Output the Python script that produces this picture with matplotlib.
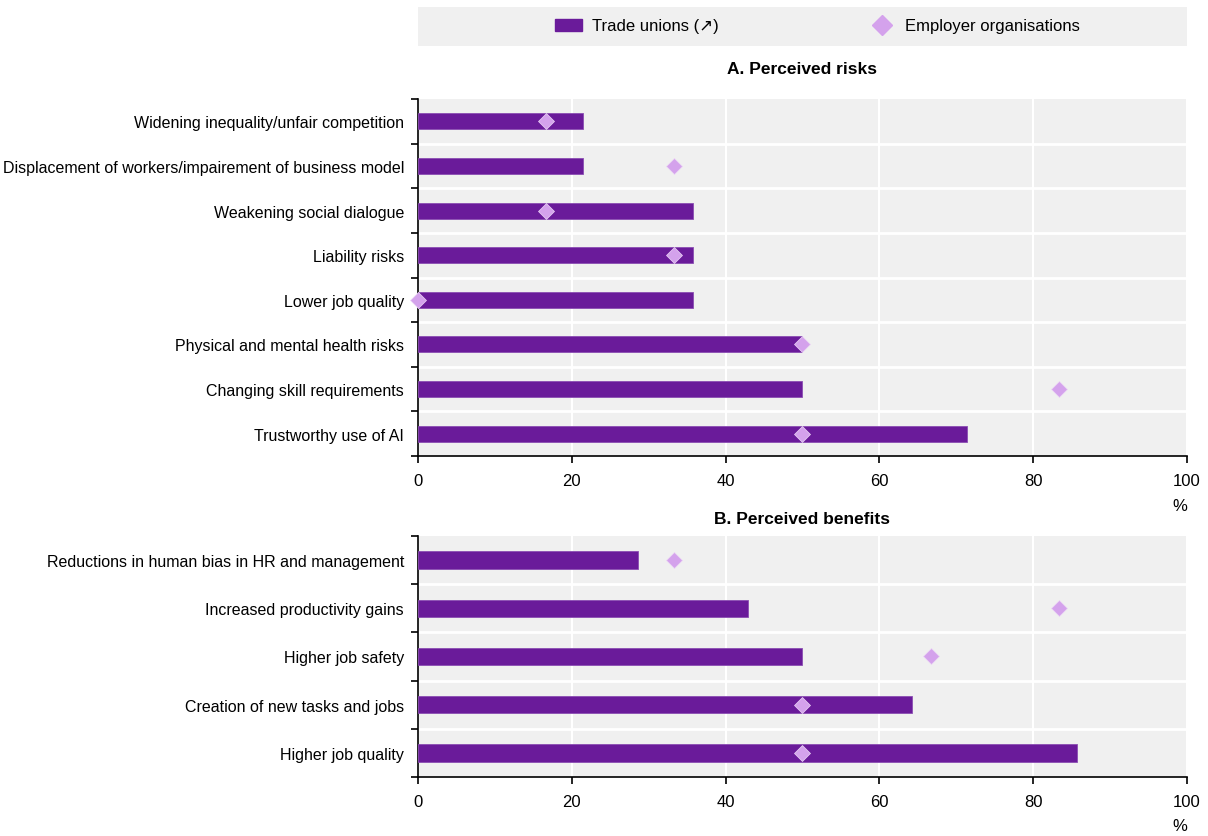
import numpy as np
import matplotlib.pyplot as plt
from matplotlib.patches import Rectangle
from matplotlib.lines import Line2D
from matplotlib.patches import Patch

plt.rcParams['font.family'] = ['Liberation Sans', 'DejaVu Sans']

risk_labels = ['Widening inequality/unfair competition',
               'Displacement of workers/impairement of business model',
               'Weakening social dialogue',
               'Liability risks',
               'Lower job quality',
               'Physical and mental health risks',
               'Changing skill requirements',
               'Trustworthy use of AI']
risk_unions = [21.4, 21.4, 35.7, 35.7, 35.7, 50.0, 50.0, 71.4]
risk_employers = [16.7, 33.3, 16.7, 33.3, 0.0, 50.0, 83.3, 50.0]

benefit_labels = ['Reductions in human bias in HR and management',
                  'Increased productivity gains',
                  'Higher job safety',
                  'Creation of new tasks and jobs',
                  'Higher job quality']
benefit_unions = [28.6, 42.9, 50.0, 64.3, 85.7]
benefit_employers = [33.3, 83.3, 66.7, 50.0, 50.0]

bar_col = '#6A1B9A'
dia_col = '#D4A2EC'
bg_col = '#F0F0F0'

fig = plt.figure(figsize=(12.08, 8.37), dpi=100)

def panel(rect, labels, unions, employers, title, tpad):
    ax = fig.add_axes(rect)
    n = len(labels)
    y = np.arange(n)
    ax.set_facecolor(bg_col)
    ax.barh(y, unions, height=0.36, color=bar_col, edgecolor='#8B4DB3', linewidth=0.6, zorder=3)
    ax.plot(employers, y, 'D', color=dia_col, markersize=8.5, markeredgecolor='#EBD6F5',
            markeredgewidth=0.5, zorder=4, clip_on=False)
    ax.set_xlim(0, 100)
    ax.set_ylim(n - 0.5, -0.5)
    ax.set_xticks(np.arange(0, 101, 20))
    ax.set_yticks(y)
    ax.set_yticklabels(labels, fontsize=11.5)
    ax.set_yticks(np.arange(-0.5, n, 1), minor=True)
    ax.tick_params(axis='y', which='major', length=0, pad=10)
    ax.tick_params(axis='y', which='minor', length=5, width=1.2, direction='out')
    ax.tick_params(axis='x', length=5, width=1.2, labelsize=12, pad=7)
    ax.grid(axis='x', color='white', linewidth=1.5, zorder=1)
    for b in np.arange(0.5, n - 1, 1):
        ax.axhline(b, color='white', linewidth=2, zorder=1)
    for s in ['top', 'right']:
        ax.spines[s].set_visible(False)
    ax.spines['left'].set_linewidth(1.2)
    ax.spines['bottom'].set_linewidth(1.2)
    ax.set_axisbelow(True)
    ax.text(1.0, -0.14 if n > 6 else -0.2, '%', transform=ax.transAxes, ha='right',
            va='center', fontsize=12)
    ax.set_title(title, fontsize=12.5, fontweight='bold', pad=tpad)
    return ax

ax1 = panel([0.346, 0.454, 0.6366, 0.4265], risk_labels, risk_unions, risk_employers,
            'A. Perceived risks', 19)
ax2 = panel([0.346, 0.0705, 0.6366, 0.288], benefit_labels, benefit_unions, benefit_employers,
            'B. Perceived benefits', 9)

fig.patches.append(Rectangle((0.346, 1 - 47 / 837), 0.6366, 39 / 837, transform=fig.transFigure,
                             facecolor=bg_col, edgecolor='none', zorder=0))
handles = [Patch(facecolor=bar_col, edgecolor=bar_col),
           Line2D([], [], marker='D', color=dia_col, linestyle='none', markersize=10)]
fig.legend(handles, ['Trade unions (\u2197)', 'Employer organisations'], loc='center',
           bbox_to_anchor=(0.677, 1 - 27 / 837), ncol=2, frameon=False, fontsize=12,
           columnspacing=9, handlelength=1.6, handletextpad=0.6)

fig.savefig('out.png', dpi=100)
